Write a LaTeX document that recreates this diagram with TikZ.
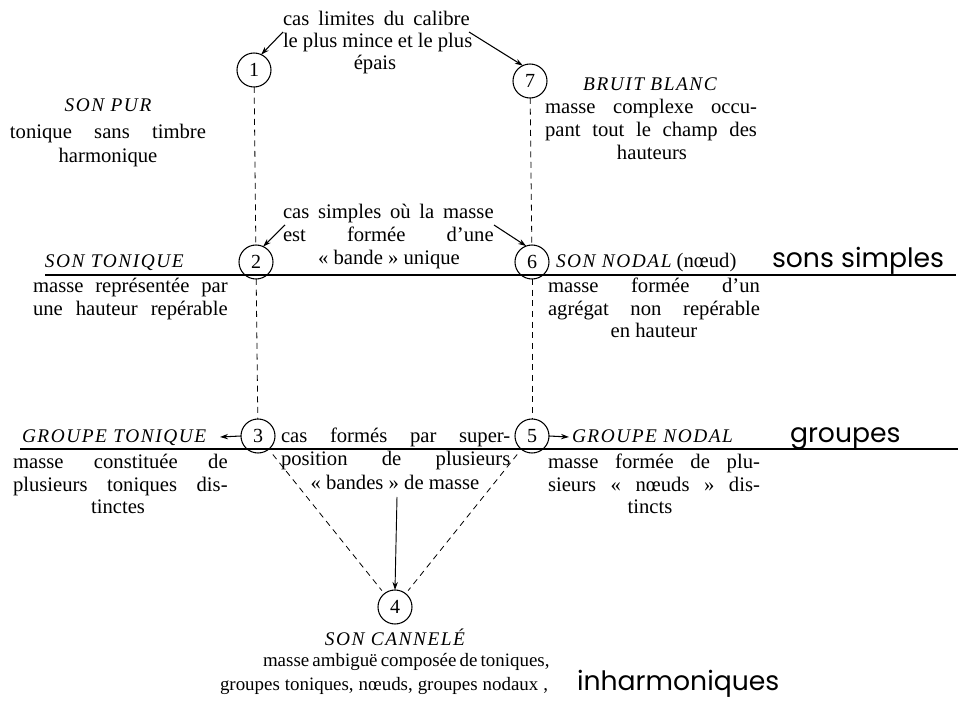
\documentclass[tikz,border=0pt]{standalone}
\usepackage{fontspec}
\setmainfont{Liberation Serif}
\newfontfamily\headf[LetterSpace=8]{Liberation Serif}
\newfontfamily\hand{Poppins}
\usetikzlibrary{arrows.meta}
\newcommand{\jst}[2]{\makebox[#1][s]{#2}}
\begin{document}
\begin{tikzpicture}[x=0.75pt,y=-0.75pt,
  every node/.style={inner sep=0pt, outer sep=0pt},
  txt/.style={font=\fontsize{15.5}{18}\selectfont},
  sm/.style={font=\fontsize{14.2}{17}\selectfont},
  it/.style={font=\headf\itshape\fontsize{14.5}{17}\selectfont},
  num/.style={circle, draw, line width=0.8pt, minimum size=25.5pt, inner sep=0pt, font=\fontsize{15}{17}\selectfont},
  dsh/.style={dash pattern=on 4.5pt off 3.5pt, line width=0.6pt},
  arr/.style={-{Stealth[length=6pt,width=4pt]}, line width=0.8pt},
  rule/.style={line width=0.8pt},
  hw/.style={font=\hand\fontsize{20}{22}\selectfont}
]
\useasboundingbox (0,0) rectangle (958,702);

% circles
\node[num] (c1) at (254,70) {1};
\node[num] (c7) at (530,81) {7};
\node[num] (c2) at (256,262) {2};
\node[num] (c6) at (532,262) {6};
\node[num] (c3) at (258,436) {3};
\node[num] (c5) at (532,436) {5};
\node[num] (c4) at (395,607) {4};

% horizontal rules
\coordinate (r1a) at (45,275);
\coordinate (r1b) at (956,275);
\coordinate (r2a) at (20,449);
\coordinate (r2b) at (958,449);
\draw[rule] (r1a) -- (r1b);
\draw[rule] (r2a) -- (r2b);

% dashed links
\draw[dsh] (c1) -- (c2);
\draw[dsh] (c7) -- (c6);
\draw[dsh] (c2) -- (c3);
\draw[dsh] (c6) -- (c5);
\draw[dsh, shorten <=5pt, shorten >=3pt] (c3) -- (c4);
\draw[dsh, shorten <=5pt, shorten >=3pt] (c5) -- (c4);

% top note
\node[txt, anchor=base west] (lim1) at (283,26) {\jst{140pt}{cas limites du calibre}};
\node[txt, anchor=base west] (lim2) at (283,48) {\jst{142pt}{le plus mince et le plus}};
\node[txt, anchor=base] (lim3) at (375,70) {épais};
\coordinate (a1) at (283,32);
\coordinate (a2) at (469,32);
\draw[arr] (a1) -- (c1.65);
\draw[arr] (a2) -- (c7.115);

% son pur
\node[it, anchor=base] (sp0) at (108,112) {SON PUR};
\node[txt, anchor=base] (sp1) at (108,139) {\jst{147pt}{tonique sans timbre}};
\node[txt, anchor=base] (sp2) at (108,163) {harmonique};

% bruit blanc
\node[it, anchor=base] (bb0) at (650,91) {BRUIT BLANC};
\node[txt, anchor=base west] (bb1) at (545,114) {\jst{159pt}{masse complexe occu-}};
\node[txt, anchor=base west] (bb2) at (545,137) {\jst{159pt}{pant tout le champ des}};
\node[txt, anchor=base] (bb3) at (652,160) {hauteurs};

% cas simples
\node[txt, anchor=base west] (cs1) at (283,219) {\jst{158pt}{cas simples où la masse}};
\node[txt, anchor=base west] (cs2) at (283,242) {\jst{158pt}{est formée d'une}};
\node[txt, anchor=base] (cs3) at (389,265) {«~bande~» unique};
\coordinate (a3) at (285,225);
\coordinate (a4) at (494,225);
\draw[arr] (a3) -- (c2.65);
\draw[arr] (a4) -- (c6.110);

% son tonique
\node[it, anchor=base west] (st0) at (45,268) {SON TONIQUE};
\node[txt, anchor=base west] (st1) at (33,293) {\jst{146pt}{masse représentée par}};
\node[txt, anchor=base west] (st2) at (33,316) {\jst{146pt}{une hauteur repérable}};

% son nodal
\node[txt, anchor=base west] (sn0) at (556,268) {{\headf\itshape\fontsize{14.5}{17}\selectfont SON NODAL} (nœud)};
\node[txt, anchor=base west] (sn1) at (548,293) {\jst{159pt}{masse formée d'un}};
\node[txt, anchor=base west] (sn2) at (548,316) {\jst{159pt}{agrégat non repérable}};
\node[txt, anchor=base] (sn3) at (654,338) {en hauteur};

\node[hw, anchor=base west] (hs) at (772,268) {sons simples};

% groupe tonique
\node[it, anchor=base west] (gt0) at (22,443) {GROUPE TONIQUE};
\coordinate (gte) at (220,437);
\draw[arr] (c3.west) -- (gte);
\node[txt, anchor=base west] (gt1) at (13,469) {\jst{161pt}{masse constituée de}};
\node[txt, anchor=base west] (gt2) at (13,492) {\jst{161pt}{plusieurs toniques dis-}};
\node[txt, anchor=base] (gt3) at (118,514) {tinctes};

% cas formes
\node[txt, anchor=base west] (cf1) at (281,443) {\jst{172pt}{cas formés par super-}};
\node[txt, anchor=base west] (cf2) at (281,466) {\jst{172pt}{position de plusieurs}};
\node[txt, anchor=base] (cf3) at (395,490) {«~bandes~» de masse};
\coordinate (a5) at (397,497);
\draw[line width=0.7pt, -{Stealth[length=6pt,width=4pt]}] (a5) -- (c4.north);

% groupe nodal
\node[it, anchor=base west] (gn0) at (572,443) {GROUPE NODAL};
\coordinate (gnw) at (569,437);
\draw[arr] (c5.east) -- (gnw);
\node[txt, anchor=base west] (gn1) at (548,469) {\jst{159pt}{masse formée de plu-}};
\node[txt, anchor=base west] (gn2) at (548,492) {\jst{159pt}{sieurs «~nœuds~» dis-}};
\node[txt, anchor=base] (gn3) at (650,514) {tincts};

\node[hw, anchor=base west] (hg) at (790,443) {groupes};

% son cannele
\node[it, anchor=base] (sc0) at (395,645) {SON CANNELÉ};
\node[sm, anchor=base west] (sc1) at (263,667) {\jst{208pt}{masse ambiguë composée de toniques,}};
\node[sm, anchor=base west] (sc2) at (220,690) {\jst{246pt}{groupes toniques, nœuds, groupes nodaux ,}};
\node[hw, anchor=base west] (hi) at (577,690) {inharmoniques};
\end{tikzpicture}
\end{document}
